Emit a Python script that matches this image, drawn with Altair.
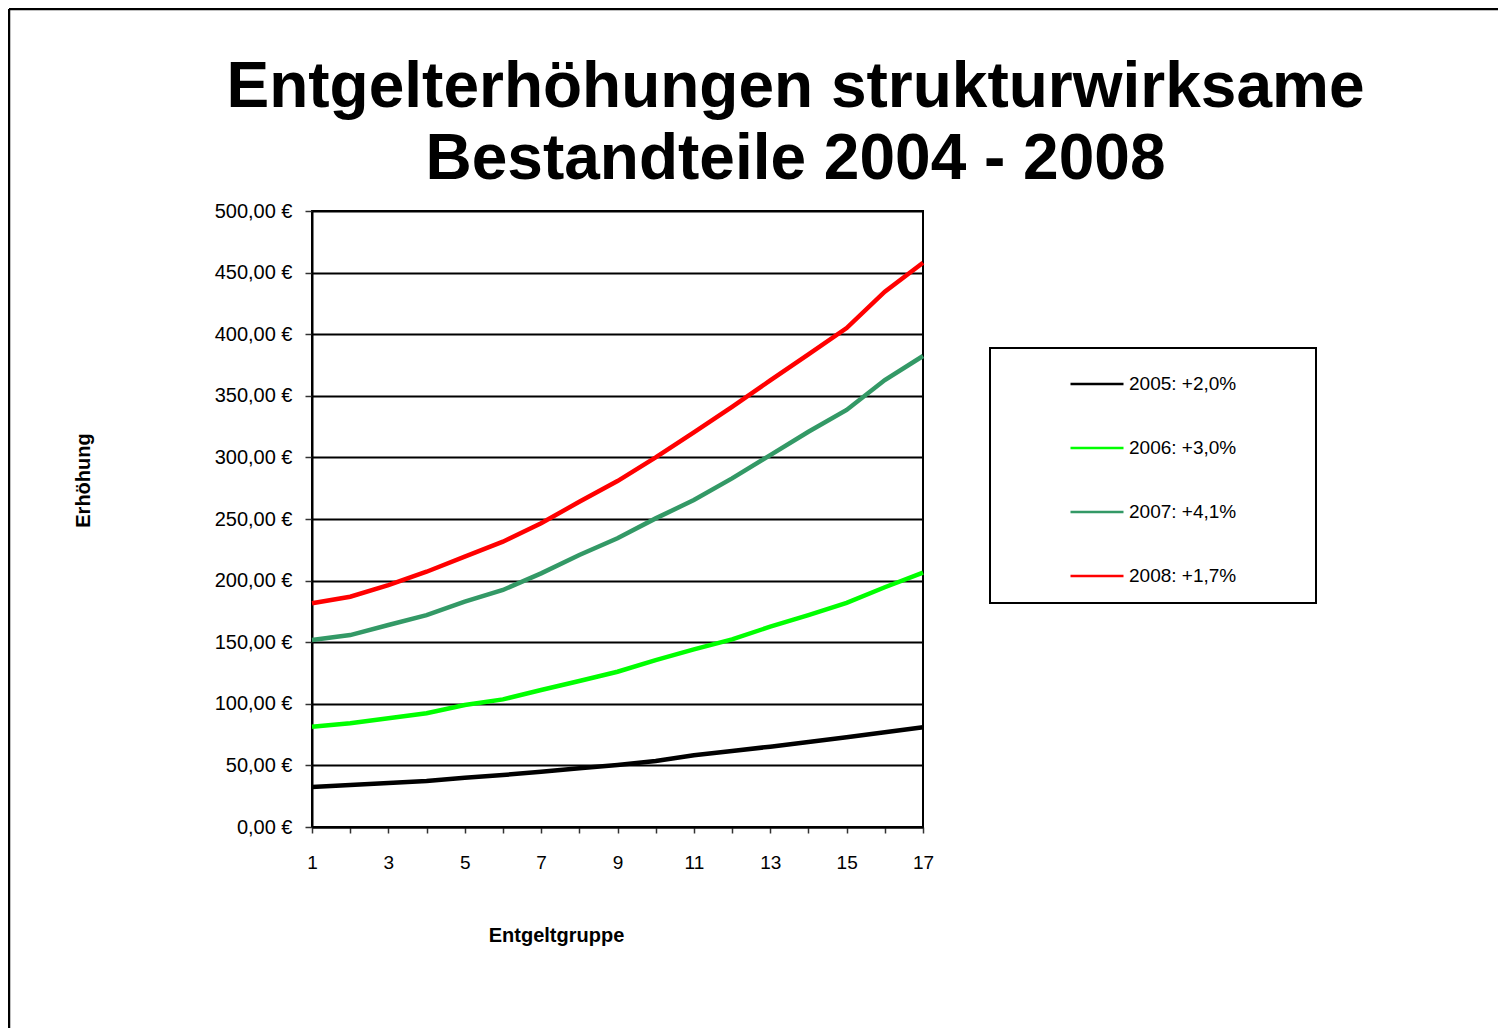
import altair as alt
import pandas as pd

# ---- data ----
groups = list(range(1, 18))
series_names = ["2005: +2,0%", "2006: +3,0%", "2007: +4,1%", "2008: +1,7%"]
series_colors = ["#000000", "#00ff00", "#339966", "#ff0000"]
v2005 = [32.5, 34.1, 35.7, 37.3, 40.0, 42.2, 44.9, 47.6, 50.3, 53.6, 58.2, 61.7, 65.2, 69.0, 72.8, 76.9, 81.0]
v2006 = [81.4, 84.2, 88.2, 92.3, 99.0, 103.6, 111.2, 118.5, 126.0, 135.5, 144.2, 152.3, 162.6, 172.0, 182.0, 194.6, 206.4]
v2007 = [151.8, 155.8, 164.0, 172.0, 182.9, 192.4, 205.9, 220.8, 234.3, 250.5, 265.4, 283.0, 301.9, 320.8, 338.5, 362.8, 382.3]
v2008 = [181.6, 186.9, 196.4, 207.2, 219.4, 231.6, 246.5, 264.0, 280.8, 300.0, 320.3, 341.0, 362.5, 383.7, 405.0, 434.5, 458.0]
y_ticks = list(range(0, 501, 50))
title_lines = ["Entgelterhöhungen strukturwirksame", "Bestandteile 2004 - 2008"]

rows = []
for name, vals in zip(series_names, [v2005, v2006, v2007, v2008]):
    for g, v in zip(groups, vals):
        rows.append({"Entgeltgruppe": g, "Erhöhung": v, "Serie": name})
df = pd.DataFrame(rows)

FONT = "Liberation Sans"
# invisible spacer used only to widen / heighten the legend frame
legend_spacer = ["."] * 10

lines = alt.Chart(df).mark_line(strokeWidth=4.5, clip=False).encode(
    x=alt.X(
        "Entgeltgruppe:Q",
        scale=alt.Scale(domain=[1, 17], nice=False, zero=False),
        axis=alt.Axis(
            values=groups,
            labelExpr="datum.value % 2 == 1 ? datum.label : ''",
            labelFlush=False,
            grid=False,
            tickSize=6,
            tickWidth=1.5,
            tickColor="#333333",
            labelPadding=20,
            labelFontSize=19,
            labelFont=FONT,
            labelColor="#000000",
            domainColor="#000000",
            domainWidth=2,
            title="Entgeltgruppe",
            titleFont=FONT,
            titleFontSize=20,
            titleFontWeight="bold",
            titleColor="#000000",
            titleX=244,
            titleY=114,
            titleAlign="center",
            titleBaseline="alphabetic",
        ),
    ),
    y=alt.Y(
        "Erhöhung:Q",
        scale=alt.Scale(domain=[0, 500], nice=False),
        axis=alt.Axis(
            values=y_ticks,
            labelExpr="replace(format(datum.value, '.2f'), '.', ',') + ' €'",
            grid=True,
            gridColor="#000000",
            gridWidth=2,
            gridOpacity=1,
            tickSize=7,
            tickWidth=1.5,
            tickColor="#333333",
            labelPadding=13,
            labelFontSize=20,
            labelFont=FONT,
            labelColor="#000000",
            domainColor="#000000",
            domainWidth=2,
            title="Erhöhung",
            titleFont=FONT,
            titleFontSize=20,
            titleFontWeight="bold",
            titleColor="#000000",
            titleAngle=270,
            titleX=-223,
            titleY=269,
            titleAlign="center",
            titleBaseline="alphabetic",
        ),
    ),
    color=alt.Color(
        "Serie:N",
        scale=alt.Scale(domain=series_names, range=series_colors),
        sort=series_names,
        legend=alt.Legend(
            title=legend_spacer,
            titleOrient="right",
            titleOpacity=0,
            titleFontSize=19,
            titleLineHeight=25.2,
            titlePadding=66,
            orient="none",
            legendX=678,
            legendY=137,
            direction="vertical",
            symbolType="stroke",
            symbolSize=2809,
            symbolStrokeWidth=2.5,
            symbolOffset=71,
            labelOffset=4,
            labelFont=FONT,
            labelFontSize=19,
            labelColor="#000000",
            rowPadding=26,
            padding=8,
            strokeColor="#000000",
            fillColor="#ffffff",
        ),
    ),
)

frame_df = pd.DataFrame({"k": [0]})
frame_left = alt.Chart(frame_df).mark_rule(color="#000000", strokeWidth=2.5, clip=False).encode(
    x=alt.value(-303), y=alt.value(-202), y2=alt.value(830)
)
frame_top = alt.Chart(frame_df).mark_rule(color="#000000", strokeWidth=2.5, clip=False).encode(
    x=alt.value(-303), x2=alt.value(1190), y=alt.value(-202)
)

chart = alt.layer(frame_left, frame_top, lines).properties(
    width=611,
    height=616,
    autosize=alt.AutoSizeParams(type="none"),
    padding={"left": 304, "top": 203, "right": 575, "bottom": 201},
    title=alt.TitleParams(
        text=title_lines,
        font=FONT,
        fontSize=64,
        fontWeight="bold",
        color="#000000",
        anchor="middle",
        dx=178,
        dy=202,
        offset=18,
        lineHeight=72,
    ),
).configure_view(
    stroke="#000000", strokeWidth=2
).configure_legend(
    strokeWidth=2
)

chart.save("out.html", embed_options={"renderer": "svg", "actions": False})
